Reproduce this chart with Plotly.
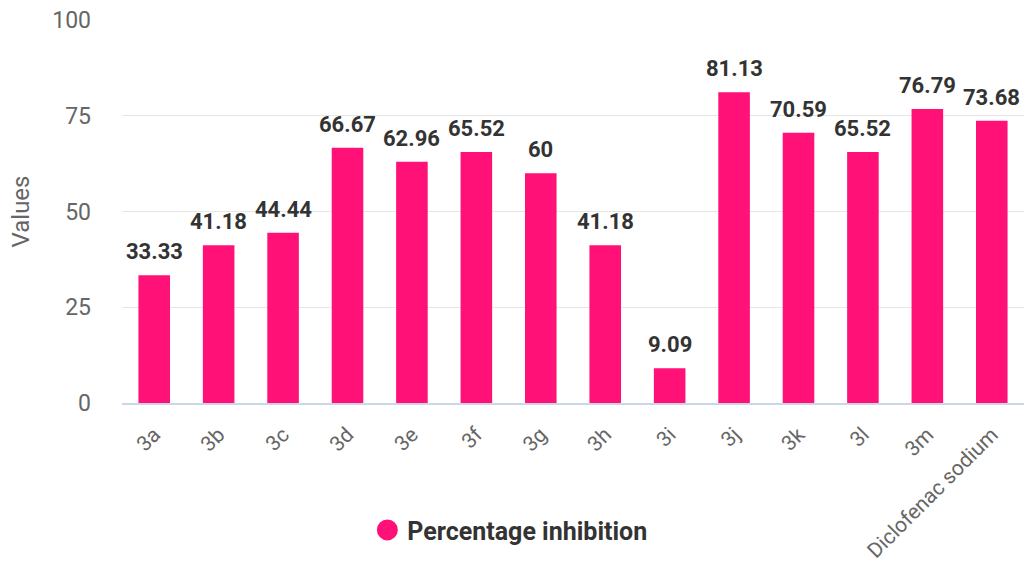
import plotly.graph_objects as go

categories = ["3a", "3b", "3c", "3d", "3e", "3f", "3g", "3h", "3i", "3j", "3k", "3l", "3m", "Diclofenac sodium"]
values = [33.33, 41.18, 44.44, 66.67, 62.96, 65.52, 60, 41.18, 9.09, 81.13, 70.59, 65.52, 76.79, 73.68]
labels = ["33.33", "41.18", "44.44", "66.67", "62.96", "65.52", "60", "41.18", "9.09", "81.13", "70.59", "65.52", "76.79", "73.68"]
series_name = "Percentage inhibition"
y_ticks = [0, 25, 50, 75, 100]

color = "#FF1178"
font = "Roboto, 'Open Sans', sans-serif"

fig = go.Figure()
fig.add_trace(go.Bar(
    x=categories, y=values, marker=dict(color=color, line=dict(width=0)),
    width=0.49, showlegend=False, hoverinfo="x+y",
))
fig.add_trace(go.Scatter(
    x=[None], y=[None], mode="markers", name=series_name,
    marker=dict(color=color, size=16, symbol="circle", line=dict(color=color, width=10)),
    showlegend=True,
))
for c, v, t in zip(categories, values, labels):
    fig.add_annotation(x=c, y=v, text="<b>" + t + "</b>", showarrow=False,
                       yanchor="bottom", yshift=9,
                       font=dict(family=font, size=22, color="#333333"))

fig.update_layout(
    width=1024, height=567,
    margin=dict(l=122, r=0, t=20, b=164),
    plot_bgcolor="white", paper_bgcolor="white",
    font=dict(family=font, color="#666666"),
    bargap=0.5,
    legend=dict(orientation="h", x=0.43, xanchor="center", y=-0.332, yanchor="middle",
                font=dict(family=font, size=25, color="#333333", weight="bold"),
                itemsizing="trace"),
)
fig.update_xaxes(
    tickangle=-45, tickfont=dict(size=21, color="#666666"),
    showline=True, linecolor="#ccd6eb", linewidth=2, showgrid=False,
    ticks="", ticklabelstandoff=9, automargin=False,
)
fig.update_yaxes(
    range=[0, 100], tickvals=y_ticks, tickfont=dict(size=23, color="#666666"),
    showgrid=True, gridcolor="#e6e6e6", gridwidth=1, zeroline=False,
    title=dict(text="Values", font=dict(size=24, color="#666666"), standoff=15),
    ticklabelstandoff=30, showline=False, automargin=False,
)

fig.write_html("out.html")
